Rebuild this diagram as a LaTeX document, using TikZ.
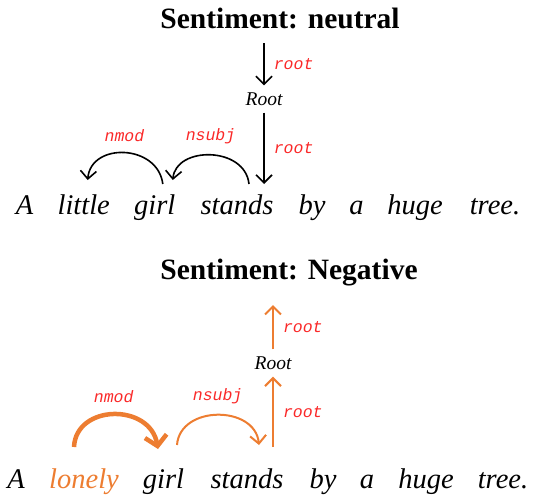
\documentclass[tikz,border=0pt]{standalone}
\usepackage{fontspec}
\setmainfont{Liberation Serif}
\setmonofont{Liberation Mono}
\definecolor{relred}{RGB}{250,40,40}
\definecolor{negorange}{RGB}{237,125,49}
\usetikzlibrary{arrows.meta}
\newcommand{\ttlfont}{\fontsize{29.5}{32}\selectfont\bfseries}
\newcommand{\wordfont}{\fontsize{28.5}{30}\selectfont\itshape}
\newcommand{\relfont}{\fontsize{16.5}{18}\selectfont\ttfamily\itshape}

\begin{document}
\begin{tikzpicture}[
      x=1pt, y=-1pt,
      ttl/.style={font=\ttlfont, anchor=base, inner sep=0pt},
      word/.style={font=\wordfont, anchor=base, inner sep=0pt, text height=20pt, text depth=6pt, outer xsep=0pt, outer ysep=#1},
      rootnode/.style={font=\fontsize{19.5}{20}\selectfont\itshape, inner xsep=0pt, inner ysep=7pt},
      lab/.style={font=\relfont, text=relred, inner sep=1pt},
      dep/.style={-{Straight Barb[length=8pt,width=16pt]}, line width=1.6pt},
      negdep/.style={-{Straight Barb[length=8pt,width=16pt]}, line width=2pt, negorange}
    ]
      \useasboundingbox (0,0) rectangle (535,498);

      % Neutral sentence (top)
      \node[ttl] (title1) at (280,28.3) {Sentiment: neutral};

      \node[word=10pt] (w1a) at (24.6,214) {A};
      \node[word=10pt] (w1little) at (83.7,214) {little};
      \node[word=10pt] (w1girl) at (154.8,214) {girl};
      \node[word=10pt] (w1stands) at (237,214) {stands};
      \node[word=10pt] (w1by) at (312,214) {by};
      \node[word=10pt] (w1a2) at (356.5,214) {a};
      \node[word=10pt] (w1huge) at (415,214) {huge};
      \node[word=10pt] (w1tree) at (495,214) {tree.};

      \node[rootnode] (root1) at (264,99) {Root};
      \coordinate (top1) at (264,43.3);

      \draw[dep] (top1) -- node[lab, right=8pt] (lroot1a) {root} (root1);
      \draw[dep] (root1) -- node[lab, right=8pt] (lroot1b) {root} (root1 |- w1stands.north);
      \draw[dep] ([xshift=8pt]w1girl.north) .. controls +(-5,-40) and +(3,-38) .. node[lab, above=9pt, pos=.5] (lnmod1) {nmod} ([xshift=4pt,yshift=4pt]w1little.north);
      \draw[dep] ([xshift=12pt]w1stands.north) .. controls +(-4,-38) and +(3,-34) .. node[lab, above=9pt, pos=.5] (lnsubj1) {nsubj} ([xshift=18pt,yshift=4pt]w1girl.north);

      % Negative sentence (bottom)
      \node[ttl] (title2) at (289,279.3) {Sentiment: Negative};

      \node[word=21pt] (w2a) at (16,488) {A};
      \node[word=21pt, text=negorange] (w2lonely) at (84,488) {lonely};
      \node[word=21pt] (w2girl) at (163.5,488) {girl};
      \node[word=21pt] (w2stands) at (247,488) {stands};
      \node[word=21pt] (w2by) at (323,488) {by};
      \node[word=21pt] (w2a2) at (367,488) {a};
      \node[word=21pt] (w2huge) at (426,488) {huge};
      \node[word=21pt] (w2tree) at (503,488) {tree.};

      \node[rootnode] (root2) at (273,363) {Root};
      \coordinate (top2) at (273,305);

      \draw[negdep] (root2 |- w2stands.north) -- node[lab, right=8pt] (lroot2b) {root} (root2);
      \draw[negdep] (root2) -- node[lab, right=8pt] (lroot2a) {root} (top2);
      \draw[negdep, line width=4.5pt, -{Straight Barb[length=10pt,width=22pt]}] ([xshift=-10pt]w2lonely.north) .. controls +(2,-43) and +(-8,-46) .. node[lab, above=9pt, pos=.5] (lnmod2) {nmod} ([xshift=-5.5pt,yshift=-2pt]w2girl.north);
      \draw[negdep] ([xshift=13.5pt,yshift=2pt]w2girl.north) .. controls +(3,-40) and +(-4,-40) .. node[lab, above=9pt, pos=.5] (lnsubj2) {nsubj} ([xshift=12pt,yshift=2pt]w2stands.north);
    \end{tikzpicture}
\end{document}
